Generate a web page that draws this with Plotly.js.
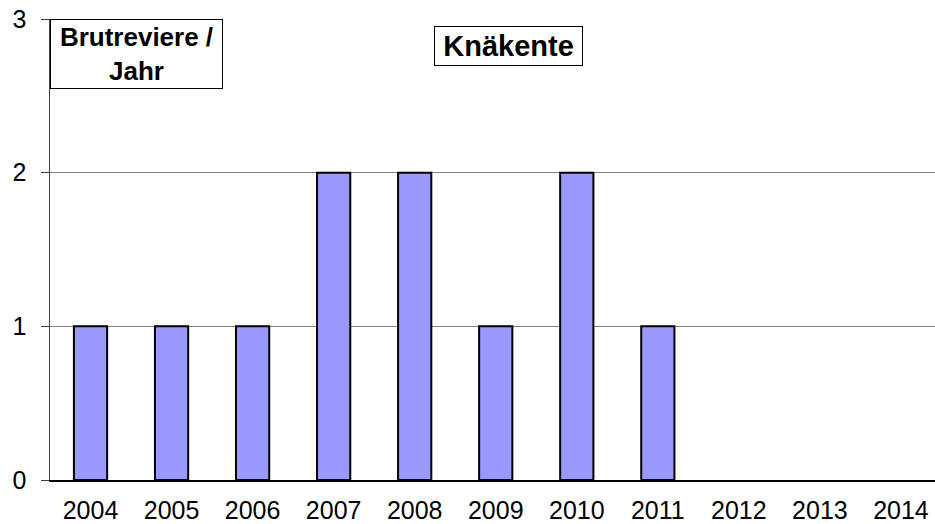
<!DOCTYPE html>
<html><head><meta charset="utf-8">
<script src="https://cdn.plot.ly/plotly-3.0.1.min.js"></script>
<style>html,body{margin:0;padding:0;background:#fff}</style>
</head><body><div id="chart" style="width:935px;height:524px"></div>
<script>
const years = ['2004','2005','2006','2007','2008','2009','2010','2011','2012','2013','2014'];
const territories = [1,1,1,2,2,1,2,1,0,0,0];
const yTicks = [0,1,2,3];
const titleText = 'Knäkente';
const yLabelText = 'Brutreviere /<br>Jahr';

const trace = {
  type:'bar', x: years, y: territories, width: 0.41,
  marker:{color:'#9999FF', line:{color:'#000000', width: territories.map(v => v > 0 ? 2 : 0)}},
  hoverinfo:'skip'
};
const layout = {
  width:935, height:524,
  margin:{l:50, r:0, t:19, b:44},
  paper_bgcolor:'#fff', plot_bgcolor:'#fff',
  showlegend:false,
  font:{family:'Liberation Sans, Arial, sans-serif', size:25, color:'#000'},
  xaxis:{type:'category', range:[-0.5, 10.42], showgrid:false, zeroline:false,
    showline:true, linecolor:'#000', linewidth:1.5, ticks:'', ticklabelstandoff:7,
    tickfont:{size:25}},
  yaxis:{range:[0,3], tickvals:yTicks, ticktext:yTicks.map(String), showgrid:true, gridcolor:'#808080', gridwidth:1,
    zeroline:false, showline:true, linecolor:'#404040', linewidth:1.5, ticks:'outside', ticklen:8, tickcolor:'#404040',
    ticklabelstandoff:9, tickfont:{size:25}},
  annotations:[
    {xref:'paper', yref:'paper', x:0.0, y:1, xanchor:'left', yanchor:'top', text:'<b>'+yLabelText+'</b>',
     showarrow:false, bordercolor:'#000', borderwidth:1, bgcolor:'#fff', borderpad:2, width:167,
     font:{size:26, color:'#000'}},
    {xref:'paper', yref:'paper', x:0.518, y:0.985, xanchor:'center', yanchor:'top', text:'<b>'+titleText+'</b>',
     showarrow:false, bordercolor:'#000', borderwidth:1, bgcolor:'#fff', borderpad:3, width:141,
     font:{size:29, color:'#000'}}
  ]
};
Plotly.newPlot('chart',[trace],layout,{displayModeBar:false, staticPlot:true});
</script></body></html>
